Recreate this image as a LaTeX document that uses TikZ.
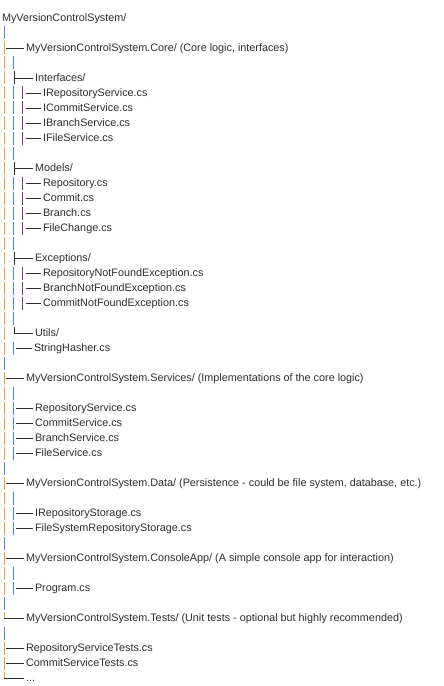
\documentclass[tikz,border=0pt]{standalone}
\usepackage{fontspec}
\setmainfont{Liberation Sans}
\definecolor{txt}{HTML}{2E2E2E}
\definecolor{gOrange}{HTML}{EBA04A}
\definecolor{gBlue}{HTML}{4F86DA}
\definecolor{gPurple}{HTML}{6A38B0}
\tikzset{
  lbl/.style={anchor=west, inner sep=0pt, outer sep=0pt, text height=8pt, text depth=1pt, text=txt, font=\fontsize{10.85}{12}\selectfont},
  og/.style={draw=gOrange, line width=1.1bp},
  bg/.style={draw=gBlue, line width=1.1bp},
  pg/.style={draw=gPurple, line width=1.1bp},
  dk/.style={draw=txt, line width=0.9bp},
  br/.style={draw=txt, line width=0.9bp},
}
\begin{document}
\begin{tikzpicture}[x=1bp,y=-1bp]
\useasboundingbox[fill=white] (0,0) rectangle (444,686);
% text lines
\node[lbl] (n0) at (2,18) {MyVersionControlSystem/};
\node[lbl] (n2) at (26,48) {MyVersionControlSystem.Core/ (Core logic, interfaces)};
\node[lbl] (n4) at (35,78) {Interfaces/};
\node[lbl] (n5) at (43,93) {IRepositoryService.cs};
\node[lbl] (n6) at (43,108) {ICommitService.cs};
\node[lbl] (n7) at (43,123) {IBranchService.cs};
\node[lbl] (n8) at (43,138) {IFileService.cs};
\node[lbl] (n10) at (35,168) {Models/};
\node[lbl] (n11) at (43,183) {Repository.cs};
\node[lbl] (n12) at (43,198) {Commit.cs};
\node[lbl] (n13) at (43,213) {Branch.cs};
\node[lbl] (n14) at (43,228) {FileChange.cs};
\node[lbl] (n16) at (35,258) {Exceptions/};
\node[lbl] (n17) at (43,273) {RepositoryNotFoundException.cs};
\node[lbl] (n18) at (43,288) {BranchNotFoundException.cs};
\node[lbl] (n19) at (43,303) {CommitNotFoundException.cs};
\node[lbl] (n21) at (35,333) {Utils/};
\node[lbl] (n22) at (34,348) {StringHasher.cs};
\node[lbl] (n24) at (26,378) {MyVersionControlSystem.Services/ (Implementations of the core logic)};
\node[lbl] (n26) at (35,408) {RepositoryService.cs};
\node[lbl] (n27) at (35,423) {CommitService.cs};
\node[lbl] (n28) at (35,438) {BranchService.cs};
\node[lbl] (n29) at (35,453) {FileService.cs};
\node[lbl] (n31) at (26,483) {MyVersionControlSystem.Data/ (Persistence - could be file system, database, etc.)};
\node[lbl] (n33) at (35,513) {IRepositoryStorage.cs};
\node[lbl] (n34) at (35,528) {FileSystemRepositoryStorage.cs};
\node[lbl] (n36) at (26,558) {MyVersionControlSystem.ConsoleApp/ (A simple console app for interaction)};
\node[lbl] (n38) at (35,588) {Program.cs};
\node[lbl] (n40) at (26,618) {MyVersionControlSystem.Tests/ (Unit tests - optional but highly recommended)};
\node[lbl] (n42) at (26,648) {RepositoryServiceTests.cs};
\node[lbl] (n43) at (26,663) {CommitServiceTests.cs};
\node[lbl] (n44) at (26,678) {...};
% indent guides
\foreach \i in {2,3,4,5,6,7,8,9,10,11,12,13,14,15,16,17,18,19,20,21,22,24,25,26,27,28,29,31,32,33,34,36,37,38,42,43}
  \draw[og] (4.5,{18+15*\i-6.5}) -- (4.5,{18+15*\i+6.5});
\foreach \i in {40,44}
  \draw[og] (4.5,{18+15*\i-6.5}) -- (4.5,{18+15*\i+0.5});
\foreach \i in {1,23,30,35,39,41}
  \draw[bg] (4.5,{18+15*\i-6.5}) -- (4.5,{18+15*\i+6.5});
\foreach \i in {3,5,6,7,8,9,11,12,13,14,15,17,18,19,20,22,25,26,27,28,29,32,33,34,37,38}
  \draw[bg] (13.5,{18+15*\i-6.5}) -- (13.5,{18+15*\i+6.5});
\foreach \i in {4,10,16}
  \draw[dk] (14.5,{18+15*\i-6.5}) -- (14.5,{18+15*\i+6.5});
\draw[dk] (14.5,{18+15*21-6.5}) -- (14.5,{18+15*21+0.5});
\foreach \i in {5,6,7,8,11,12,13,14,17,18,19}
  \draw[pg] (22.5,{18+15*\i-6.5}) -- (22.5,{18+15*\i+6.5});
% branches
\foreach \i in {2,24,31,36,42,43}
  \draw[br] (6,{18.5+15*\i}) -- ([xshift=-2.5bp,yshift=-0.5bp]n\i.west);
\foreach \i in {40,44}
  \draw[br] (4,{18.5+15*\i}) -- ([xshift=-2.5bp,yshift=-0.5bp]n\i.west);
\foreach \i in {4,10,16,21}
  \draw[br] (14,{18.5+15*\i}) -- ([xshift=-2bp,yshift=-0.5bp]n\i.west);
\foreach \i in {22,26,27,28,29,33,34,38}
  \draw[br] (16,{18.5+15*\i}) -- ([xshift=-2bp,yshift=-0.5bp]n\i.west);
\foreach \i in {5,6,7,8,11,12,13,14,17,18,19}
  \draw[br] (26,{18.5+15*\i}) -- ([xshift=-2bp,yshift=-0.5bp]n\i.west);
\end{tikzpicture}
\end{document}
